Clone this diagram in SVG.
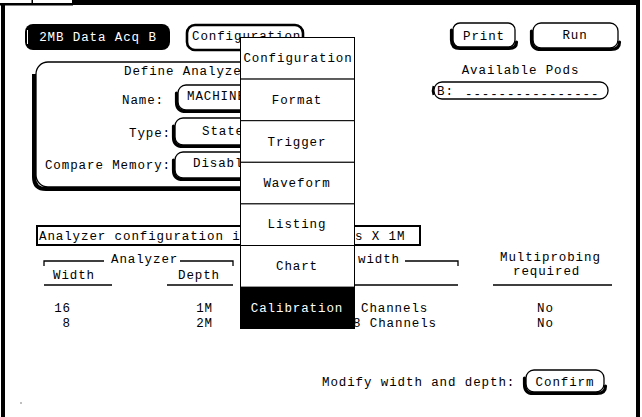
<svg xmlns="http://www.w3.org/2000/svg" width="642" height="417" viewBox="0 0 642 417">
<style>
text{font-family:"Liberation Mono","DejaVu Sans Mono",monospace;font-size:12.5px;letter-spacing:0.9px;fill:#000}
.m{text-anchor:middle}
.e{text-anchor:end}
.wt{fill:#fff}
.box{fill:#fff;stroke:#000;stroke-width:1.3}
.sh{fill:none;stroke:#000;stroke-width:3.2;stroke-linecap:round}
.ln{fill:none;stroke:#000;stroke-width:1.3}
.mi{fill:#fff;stroke:#000;stroke-width:1}
</style>
<rect width="642" height="417" fill="#fff"/>
<g id="frame">
<rect x="73" y="0" width="567" height="5" fill="#000"/>
<rect x="0" y="3" width="73" height="2.5" fill="#000"/>
<rect x="31.5" y="0" width="1.5" height="4" fill="#000"/>
<rect x="72" y="0" width="1.5" height="4" fill="#000"/>
<rect x="1" y="3" width="4" height="414" fill="#000"/>
<rect x="636" y="0" width="4" height="417" fill="#000"/>
<rect x="20.5" y="402.5" width="1" height="1" fill="#000"/>
</g>
<g id="btn-module">
<rect x="25" y="24" width="145" height="26" rx="8" fill="#000"/>
<path d="M27.5,30 V44" stroke="#fff" stroke-width="1" fill="none"/>
<text class="m wt" x="98" y="41">2MB Data Acq B</text>
</g>
<g id="btn-config">
<rect x="187" y="25" width="116" height="25" rx="8" fill="#fff" stroke="#000" stroke-width="2.6"/>
<text x="192" y="40">Configuration</text>
</g>
<g id="btn-print">
<rect class="box" x="453" y="23" width="62" height="24" rx="7"/>
<path class="sh" d="M451.5,30 V40 Q451.5,48.5 460,48.5 H509 Q516.5,48.5 516.5,42"/>
<text class="m" x="484" y="40">Print</text>
</g>
<g id="btn-run">
<rect class="box" x="533" y="23" width="85" height="25" rx="8"/>
<path class="sh" d="M531.5,31 V40 Q531.5,49.5 541,49.5 H611 Q619.5,49.5 619.5,42"/>
<text class="m" x="575" y="39">Run</text>
</g>
<g id="pods">
<text class="m" x="520.5" y="74">Available Pods</text>
<rect class="box" x="434" y="82" width="174" height="17" rx="8"/>
<path d="M433.5,86 Q432,90.5 433.5,95" stroke="#000" stroke-width="2" fill="none"/>
<text x="437" y="95">B:</text>
<text x="465" y="98">----------------</text>
</g>
<g id="define-panel">
<rect class="box" x="36" y="62" width="264" height="125" rx="12"/>
<path d="M34,74 V177 Q34,189 46,189 H300" fill="none" stroke="#000" stroke-width="4"/>
<text x="124" y="75">Define Analyzer</text>
<text class="e" x="164" y="104">Name:</text>
<rect class="box" x="178" y="85" width="122" height="25" rx="8"/>
<path class="sh" d="M176.5,93 V102 Q176.5,111.5 186,111.5 H300"/>
<text x="187" y="100">MACHINE</text>
<text class="e" x="171" y="137">Type:</text>
<rect class="box" x="175" y="118" width="125" height="27" rx="8"/>
<path class="sh" d="M173.5,126 V137 Q173.5,146.5 183,146.5 H300"/>
<text x="202" y="135">State</text>
<text class="e" x="171" y="169">Compare Memory:</text>
<rect class="box" x="175" y="152" width="125" height="26" rx="8"/>
<path class="sh" d="M173.5,160 V170 Q173.5,179.5 183,179.5 H300"/>
<text x="193" y="167">Disabled</text>
</g>
<g id="config-status">
<rect x="37" y="226" width="383" height="19" fill="#fff" stroke="#000" stroke-width="2"/>
<text x="39" y="240">Analyzer configuration i</text>
<text x="355" y="240">s X  1M</text>
</g>
<g id="table">
<path class="ln" d="M44,266 V261 H104 M180,261 H233 V266"/>
<text x="111" y="263">Analyzer</text>
<text x="358" y="263">width</text>
<path class="ln" d="M405,261 H458 V266"/>
<text x="500" y="261">Multiprobing</text>
<text x="513" y="275">required</text>
<text x="53" y="279">Width</text>
<text x="178" y="279">Depth</text>
<path class="ln" d="M44,285 H112 M167,285 H233 M300,285 H458 M493,285 H612"/>
<text class="e" x="71" y="312">16</text>
<text class="e" x="213" y="312">1M</text>
<text x="361" y="312">Channels</text>
<text x="537" y="312">No</text>
<text class="e" x="71" y="327">8</text>
<text class="e" x="213" y="327">2M</text>
<text x="353" y="327">8 Channels</text>
<text x="537" y="327">No</text>
</g>
<g id="modify">
<text x="322" y="386">Modify width and depth:</text>
<rect class="box" x="526" y="370" width="78" height="22" rx="8"/>
<path class="sh" d="M524.5,378 V384 Q524.5,393.5 533,393.5 H597 Q605.5,393.5 605.5,386"/>
<text class="m" x="565" y="386">Confirm</text>
</g>
<g id="menu">
<rect class="mi" x="240.5" y="37.5" width="114" height="41.6"/>
<text class="m" x="298" y="62">Configuration</text>
<rect class="mi" x="240.5" y="79.1" width="114" height="41.6"/>
<text class="m" x="297" y="104">Format</text>
<rect class="mi" x="240.5" y="120.7" width="114" height="41.6"/>
<text class="m" x="297" y="145.5">Trigger</text>
<rect class="mi" x="240.5" y="162.3" width="114" height="41.6"/>
<text class="m" x="297" y="187">Waveform</text>
<rect class="mi" x="240.5" y="203.9" width="114" height="41.6"/>
<text class="m" x="297" y="228">Listing</text>
<rect class="mi" x="240.5" y="245.5" width="114" height="41.6"/>
<text class="m" x="297" y="270">Chart</text>
<rect x="240" y="287" width="115" height="42" fill="#000"/>
<text class="m wt" x="297" y="312">Calibration</text>
</g>
</svg>
